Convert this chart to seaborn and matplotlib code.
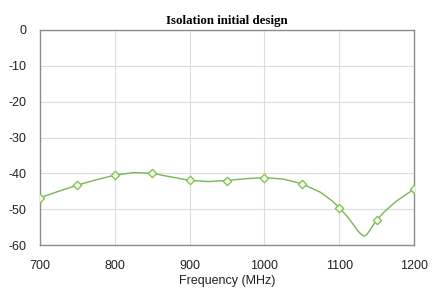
import matplotlib
matplotlib.use("Agg")
import matplotlib.pyplot as plt
import seaborn as sns
import pandas as pd

# Smooth curve
curve_freq = [700, 725, 750, 775, 800, 825, 850, 875, 900, 925, 950, 975, 1000,
              1025, 1050, 1075, 1090, 1100, 1105, 1110, 1115, 1120, 1125, 1130, 1133,
              1136, 1140, 1145, 1150, 1160, 1175, 1190, 1200]
curve_db = [-46.8, -45.0, -43.3, -41.8, -40.5, -39.8, -40.0, -41.0, -41.95, -42.3,
            -42.0, -41.5, -41.2, -41.6, -42.9, -45.3, -47.6, -49.6, -50.7, -51.9,
            -53.2, -54.6, -56.1, -57.1, -57.5, -57.3, -56.2, -54.6, -53.1, -50.8,
            -48.0, -45.8, -44.5]

# Diamond markers
marker_freq = [700, 750, 800, 850, 900, 950, 1000, 1050, 1100, 1150, 1200]
marker_db = [-46.8, -43.3, -40.5, -40.0, -41.95, -42.0, -41.2, -42.9, -49.6, -53.1, -44.5]

x_ticks = [700, 800, 900, 1000, 1100, 1200]
y_ticks = [0, -10, -20, -30, -40, -50, -60]

sns.set_style("white")
plt.rcParams['font.family'] = ['Liberation Sans', 'DejaVu Sans']

fig = plt.figure(figsize=(4.4, 2.93), dpi=100)
ax = fig.add_axes([40/440, 48/293, 374/440, 215/293])

line_color = "#7ab552"
curve_df = pd.DataFrame({"f": curve_freq, "db": curve_db})
mark_df = pd.DataFrame({"f": marker_freq, "db": marker_db})

sns.lineplot(data=curve_df, x="f", y="db", ax=ax, color=line_color, lw=1.0, zorder=3)
sns.scatterplot(data=mark_df, x="f", y="db", ax=ax, marker="D", s=18,
                facecolor="#f2f9ec", edgecolor="#7cc04c", linewidth=0.9, zorder=4)

ax.set_xlim(700, 1200)
ax.set_ylim(-60, 0)
ax.set_xticks(x_ticks)
ax.set_yticks(y_ticks)
ax.set_xticklabels([str(v) for v in x_ticks])
ax.set_yticklabels([str(v) for v in y_ticks])
ax.grid(True, color="#dcdcdc", lw=0.8)
ax.tick_params(axis="x", length=0, labelsize=9, colors="#222222", pad=11)
ax.tick_params(axis="y", length=0, labelsize=9, colors="#222222", pad=10)
for s in ax.spines.values():
    s.set_visible(True)
    s.set_color("#8c8c8c")
    s.set_linewidth(1.0)

ax.set_xlabel("Frequency (MHz)", fontsize=9, color="#222222", labelpad=2)
ax.set_ylabel("")
ax.set_title("Isolation initial design", fontsize=9.3, fontweight="bold",
             family=["Liberation Serif", "DejaVu Serif"], color="black", pad=4)

fig.savefig("out.png", dpi=100)
